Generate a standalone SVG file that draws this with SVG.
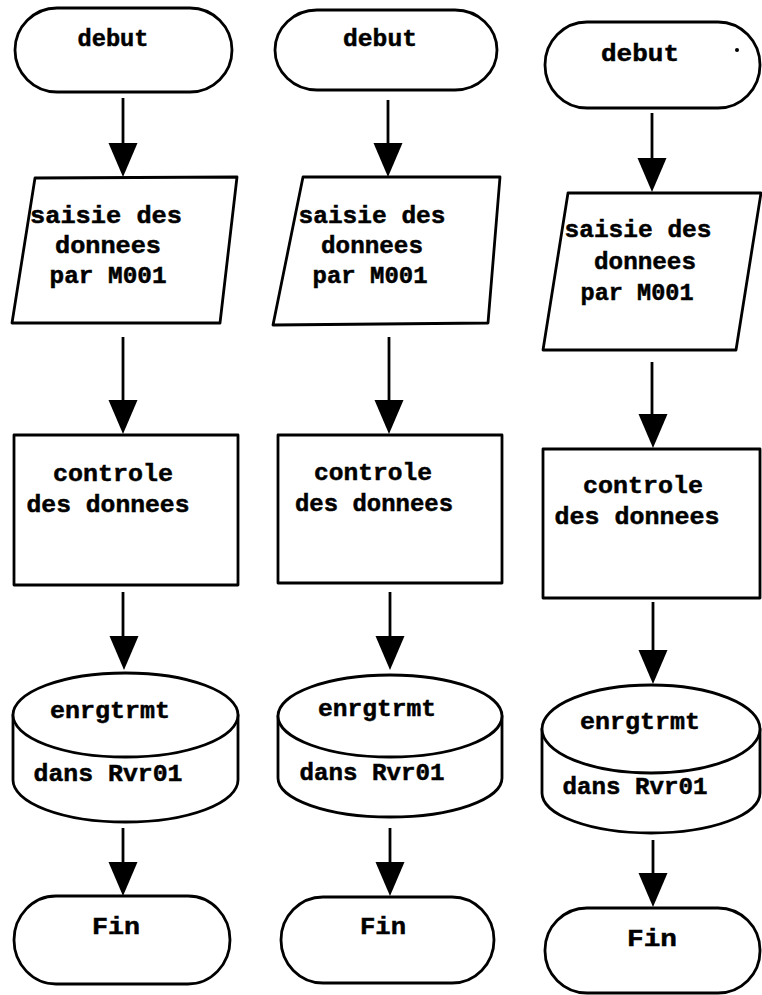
<svg xmlns="http://www.w3.org/2000/svg" xmlns:xlink="http://www.w3.org/1999/xlink" width="762" height="995" viewBox="0 0 762 995">
<style>
.s{fill:#fff;stroke:#000;stroke-width:2.8;stroke-linejoin:round}
.c{stroke:#000;stroke-width:2.8;fill:none}
.t{font-family:"Liberation Mono","DejaVu Sans Mono",monospace;font-weight:bold;font-size:24px;fill:#000;text-anchor:middle;stroke:#000;stroke-width:0.5}
</style>
<defs>
<path id="ah" d="M-14.5,-34 L14.5,-34 L0,0 Z" fill="#000"/>
</defs>
<rect width="762" height="995" fill="#fff"/>

<g id="c1-debut"><rect class="s" x="15" y="8" width="217" height="84" rx="42" ry="42"/><text class="t" x="113" y="46" textLength="71" lengthAdjust="spacingAndGlyphs">debut</text></g>
<g id="c1-saisie"><path class="s" d="M35,178 L237,177 L220,323 L12,323 Z"/><text class="t" x="106" y="223" textLength="152" lengthAdjust="spacingAndGlyphs">saisie des</text><text class="t" x="108" y="253" textLength="106" lengthAdjust="spacingAndGlyphs">donnees</text><text class="t" x="108" y="283" textLength="117" lengthAdjust="spacingAndGlyphs">par M001</text></g>
<g id="c1-controle"><rect class="s" x="14" y="435" width="224" height="150"/><text class="t" x="113" y="481" textLength="120" lengthAdjust="spacingAndGlyphs">controle</text><text class="t" x="108" y="512" textLength="163" lengthAdjust="spacingAndGlyphs">des donnees</text></g>
<g id="c1-enrg"><path class="s" d="M13,780 L13,715 L238,715 L238,780 A112.5,42 0 0 1 13,780 Z" /><ellipse class="s" cx="125.5" cy="715" rx="112.5" ry="42"/><text class="t" x="110" y="718" textLength="120" lengthAdjust="spacingAndGlyphs">enrgtrmt</text><text class="t" x="108" y="781" textLength="149" lengthAdjust="spacingAndGlyphs">dans Rvr01</text></g>
<g id="c1-fin"><rect class="s" x="14" y="896" width="216" height="88" rx="42" ry="44"/><text class="t" x="116" y="934" textLength="48" lengthAdjust="spacingAndGlyphs">Fin</text></g>

<g id="c2-debut"><rect class="s" x="275" y="10" width="222" height="80" rx="42" ry="40"/><text class="t" x="380" y="46" textLength="74" lengthAdjust="spacingAndGlyphs">debut</text></g>
<g id="c2-saisie"><path class="s" d="M303,177 L500,177 L488,323 L273,325 Z"/><text class="t" x="372" y="223" textLength="147" lengthAdjust="spacingAndGlyphs">saisie des</text><text class="t" x="372" y="253" textLength="102" lengthAdjust="spacingAndGlyphs">donnees</text><text class="t" x="370" y="283" textLength="115" lengthAdjust="spacingAndGlyphs">par M001</text></g>
<g id="c2-controle"><rect class="s" x="278" y="435" width="224" height="148"/><text class="t" x="373" y="480" textLength="118" lengthAdjust="spacingAndGlyphs">controle</text><text class="t" x="374" y="511" textLength="158" lengthAdjust="spacingAndGlyphs">des donnees</text></g>
<g id="c2-enrg"><path class="s" d="M278,778 L278,716 L502,716 L502,778 A112,39 0 0 1 278,778 Z"/><ellipse class="s" cx="390" cy="716" rx="112" ry="41"/><text class="t" x="377" y="716" textLength="118" lengthAdjust="spacingAndGlyphs">enrgtrmt</text><text class="t" x="372" y="780" textLength="145" lengthAdjust="spacingAndGlyphs">dans Rvr01</text></g>
<g id="c2-fin"><rect class="s" x="281" y="897" width="213" height="86" rx="42" ry="43"/><text class="t" x="383" y="934" textLength="46" lengthAdjust="spacingAndGlyphs">Fin</text></g>

<g id="c3-debut"><rect class="s" x="545" y="22" width="215" height="86" rx="42" ry="43"/><text class="t" x="640" y="61" textLength="78" lengthAdjust="spacingAndGlyphs">debut</text><circle cx="737" cy="50" r="2" fill="#000"/></g>
<g id="c3-saisie"><path class="s" d="M568,193 L761,193 L736,350 L543,350 Z"/><text class="t" x="638" y="237" textLength="147" lengthAdjust="spacingAndGlyphs">saisie des</text><text class="t" x="645" y="269" textLength="102" lengthAdjust="spacingAndGlyphs">donnees</text><text class="t" x="637" y="300" textLength="113" lengthAdjust="spacingAndGlyphs">par M001</text></g>
<g id="c3-controle"><rect class="s" x="543" y="449" width="217" height="149"/><text class="t" x="643" y="493" textLength="120" lengthAdjust="spacingAndGlyphs">controle</text><text class="t" x="637" y="524" textLength="165" lengthAdjust="spacingAndGlyphs">des donnees</text></g>
<g id="c3-enrg"><path class="s" d="M542,793 L542,729 L760,729 L760,793 A109,40 0 0 1 542,793 Z"/><ellipse class="s" cx="651" cy="729" rx="109" ry="44"/><text class="t" x="640" y="729" textLength="120" lengthAdjust="spacingAndGlyphs">enrgtrmt</text><text class="t" x="635" y="794" textLength="145" lengthAdjust="spacingAndGlyphs">dans Rvr01</text></g>
<g id="c3-fin"><rect class="s" x="545" y="908" width="215" height="85" rx="42" ry="42"/><text class="t" x="652" y="946" textLength="50" lengthAdjust="spacingAndGlyphs">Fin</text></g>

<g id="connectors">
<line class="c" x1="123" y1="98" x2="123" y2="145"/><use xlink:href="#ah" href="#ah" transform="translate(123,177)"/>
<line class="c" x1="123" y1="337" x2="123" y2="402"/><use xlink:href="#ah" href="#ah" transform="translate(123,434)"/>
<line class="c" x1="123" y1="592" x2="123" y2="638"/><use xlink:href="#ah" href="#ah" transform="translate(124,670)"/>
<line class="c" x1="123" y1="828" x2="123" y2="864"/><use xlink:href="#ah" href="#ah" transform="translate(123,896)"/>

<line class="c" x1="388" y1="100" x2="388" y2="145"/><use xlink:href="#ah" href="#ah" transform="translate(388,177)"/>
<line class="c" x1="389" y1="337" x2="389" y2="402"/><use xlink:href="#ah" href="#ah" transform="translate(389,434)"/>
<line class="c" x1="390" y1="592" x2="390" y2="638"/><use xlink:href="#ah" href="#ah" transform="translate(390,670)"/>
<line class="c" x1="390" y1="828" x2="390" y2="864"/><use xlink:href="#ah" href="#ah" transform="translate(390,896)"/>

<line class="c" x1="652" y1="113" x2="652" y2="160"/><use xlink:href="#ah" href="#ah" transform="translate(652,192)"/>
<line class="c" x1="652" y1="362" x2="652" y2="416"/><use xlink:href="#ah" href="#ah" transform="translate(653,448)"/>
<line class="c" x1="653" y1="602" x2="653" y2="652"/><use xlink:href="#ah" href="#ah" transform="translate(653,684)"/>
<line class="c" x1="653" y1="840" x2="653" y2="875"/><use xlink:href="#ah" href="#ah" transform="translate(653,907)"/>
</g>
</svg>
